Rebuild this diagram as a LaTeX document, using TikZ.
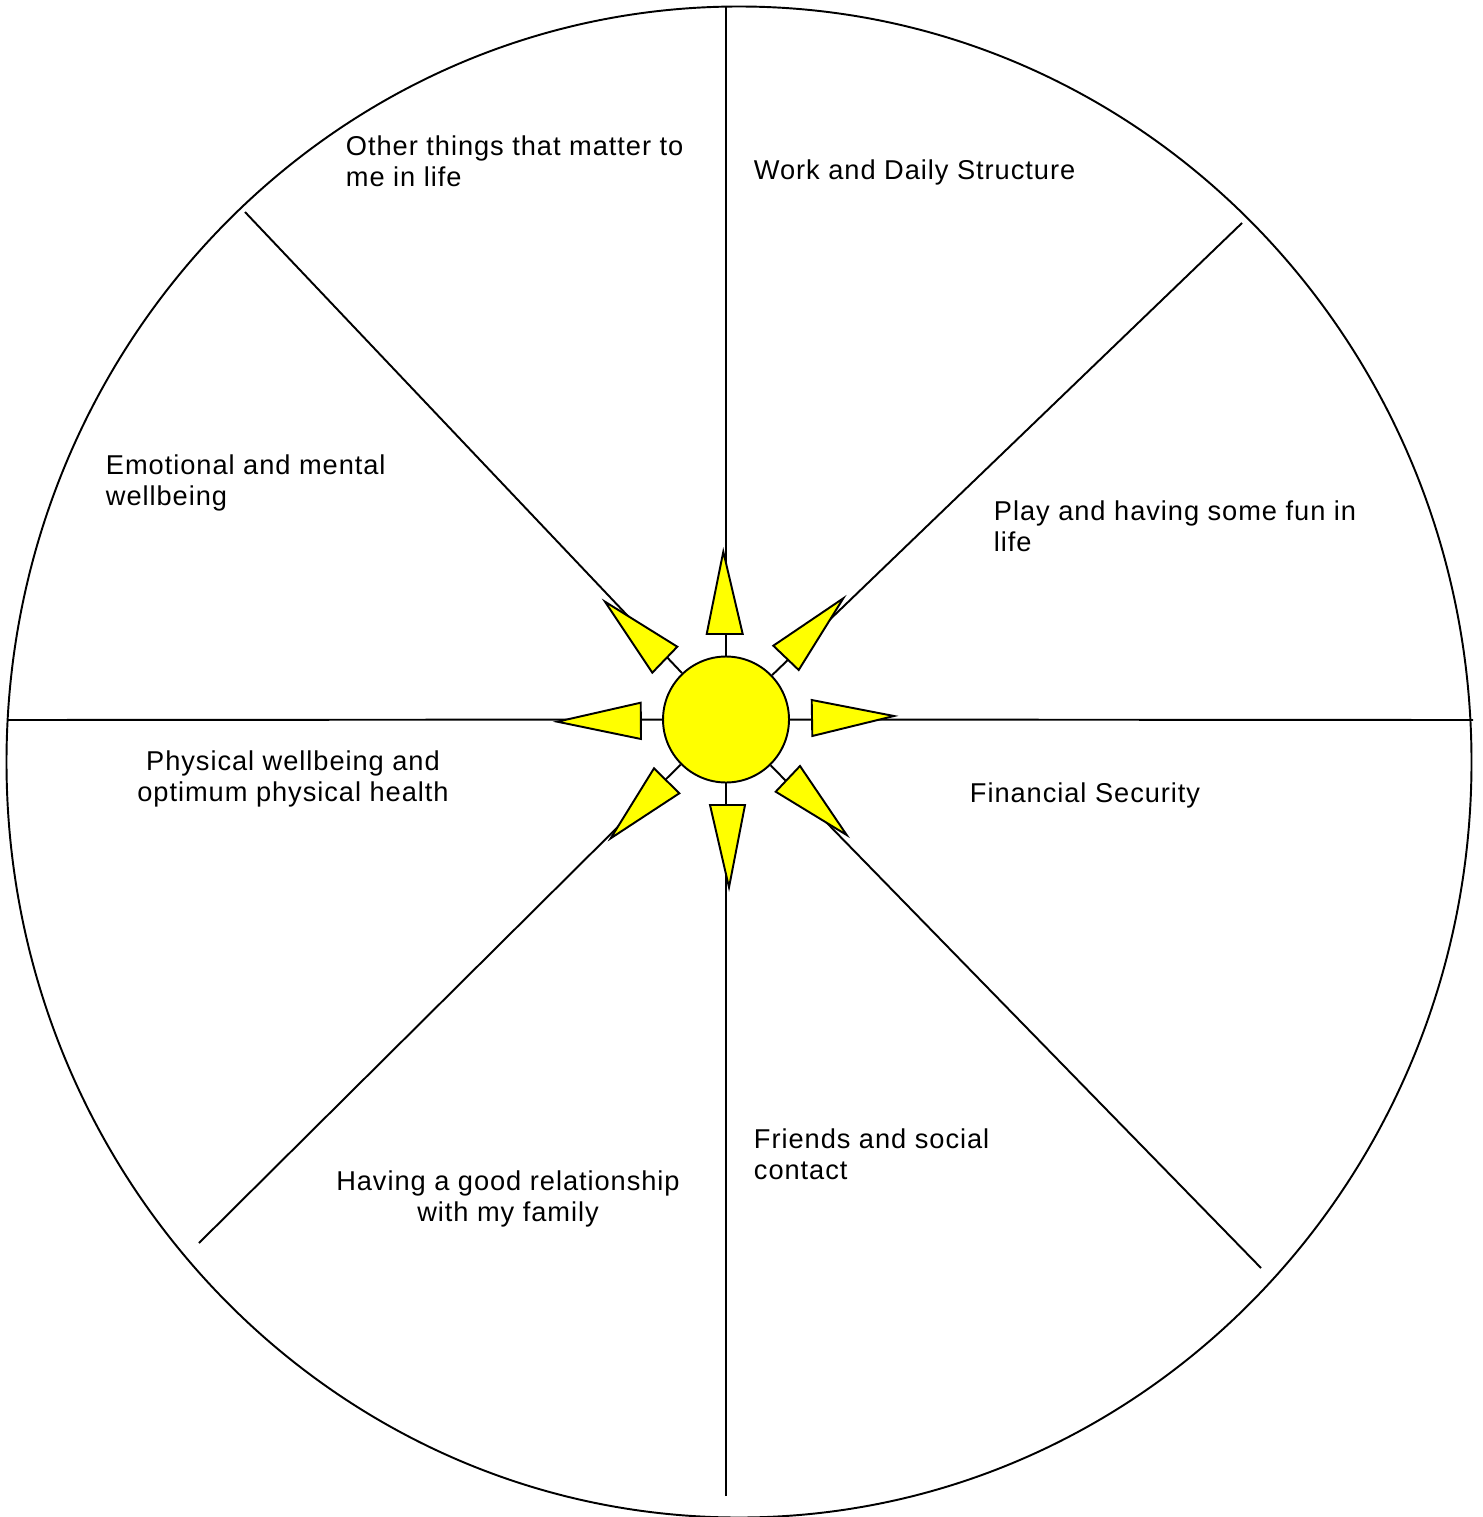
\documentclass[tikz,border=0pt]{standalone}
\usepackage{fontspec}
\newfontfamily\wheelfont[LetterSpace=3.5]{Liberation Sans}
\definecolor{sunyellow}{RGB}{255,255,0}

\begin{document}
\begin{tikzpicture}[
    x=0.02cm, y=-0.02cm,
    line width=1.1pt,
    spoke/.style={draw=black},
    ray/.style={draw=black, fill=sunyellow, line join=miter},
    sunbody/.style={circle, draw=black, fill=sunyellow, minimum size=2.52cm, inner sep=0pt},
    area/.style={font=\wheelfont\fontsize{15.5}{17.6}\selectfont, inner sep=0pt, align=left, anchor=north west},
    areac/.style={area, align=center, anchor=north},
]
    \useasboundingbox (0,0) rectangle (1483,1517);

    % ============= Wheel =============
    \draw (739,762) ellipse [x radius=732.5, y radius=755.5];
    \node[sunbody] (sun) at (726,719.5) {};

    % outer ends of the spokes
    \coordinate (top) at (726,6);
    \coordinate (bottom) at (726,1496);
    \coordinate (left) at (8,720);
    \coordinate (right) at (1473,720);
    \coordinate (nw) at (245,212);
    \coordinate (ne) at (1242,223);
    \coordinate (sw) at (199,1243);
    \coordinate (se) at (1261,1268);

    \draw[spoke] (top) -- (sun);
    \draw[spoke] (bottom) -- (sun);
    \draw[spoke] (left) -- (sun);
    \draw[spoke] (right) -- (sun);
    \draw[spoke] (nw) -- (sun);
    \draw[spoke] (ne) -- (sun);
    \draw[spoke] (sw) -- (sun);
    \draw[spoke] (se) -- (sun);

    % ============= Sun rays =============
    \filldraw[ray] (723.3,551.7) -- (742.7,634) -- (706.7,634) -- cycle;
    \filldraw[ray] (894,716) -- (812.3,736) -- (811.7,700) -- cycle;
    \filldraw[ray] (729,887.3) -- (710,805) -- (745,805) -- cycle;
    \filldraw[ray] (557.3,721.7) -- (640.7,702.7) -- (641,739) -- cycle;
    \filldraw[ray] (605,601.7) -- (677.3,646.7) -- (652.3,672.7) -- cycle;
    \filldraw[ray] (843.3,598.3) -- (798.7,670) -- (773.3,645.7) -- cycle;
    \filldraw[ray] (610.7,838.3) -- (654,768.3) -- (679.3,793.3) -- cycle;
    \filldraw[ray] (846.7,835) -- (775.7,791.7) -- (800,766) -- cycle;

    % ============= Labels =============
    \node[area] (other) at (345,135) {Other things that matter to\\me in life};
    \node[area] (work) at (753,159) {Work and Daily Structure};
    \node[area] (play) at (993,500) {Play and having some fun in\\life};
    \node[area] (emotional) at (105,454) {Emotional and mental\\wellbeing};
    \node[areac] (physical) at (293,750) {Physical wellbeing and\\optimum physical health};
    \node[area] (financial) at (969,782) {Financial Security};
    \node[area] (friends) at (753,1128) {Friends and social\\contact};
    \node[areac] (family) at (508,1170) {Having a good relationship\\with my family};
\end{tikzpicture}
\end{document}
